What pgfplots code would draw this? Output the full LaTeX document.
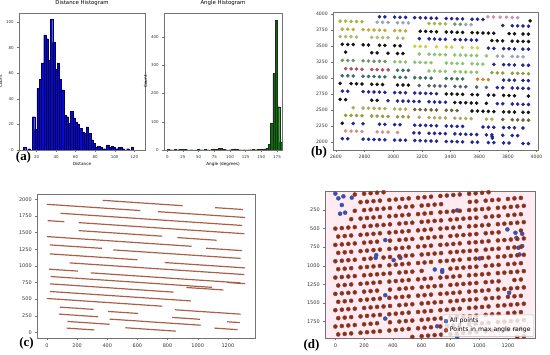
\documentclass[border=0pt]{standalone}
\usepackage{pgfplots}
\usepackage{pgfplotstable}
\pgfplotsset{compat=1.18}
\usepackage{fontspec}
\setmainfont{DejaVu Sans}
\newfontfamily\lserif{Liberation Serif}
\definecolor{nvc}{RGB}{35,35,150}
\definecolor{bkc}{RGB}{20,20,20}
\definecolor{ygc}{RGB}{160,185,60}
\definecolor{lsc}{RGB}{150,165,190}
\definecolor{sgc}{RGB}{110,150,100}
\definecolor{lac}{RGB}{195,145,185}
\definecolor{gdc}{RGB}{195,170,60}
\definecolor{loc}{RGB}{170,185,120}
\definecolor{ylc}{RGB}{200,210,70}
\definecolor{lgc}{RGB}{140,195,110}
\definecolor{mrc}{RGB}{170,80,100}
\definecolor{dsc}{RGB}{60,110,100}
\definecolor{orc}{RGB}{210,130,40}
\definecolor{slc}{RGB}{85,95,115}
\definecolor{khc}{RGB}{175,170,90}
\definecolor{doc}{RGB}{100,100,60}
\definecolor{sac}{RGB}{200,150,130}
\definecolor{olc}{RGB}{150,155,60}
\definecolor{histblue}{RGB}{10,10,200}
\definecolor{histedge}{RGB}{0,0,90}
\definecolor{histgreen}{RGB}{0,115,0}
\definecolor{segc}{RGB}{170,95,75}
\definecolor{brownpt}{RGB}{95,65,35}
\definecolor{brownedge}{RGB}{200,45,40}
\definecolor{bluept}{RGB}{60,80,170}
\pgfplotsset{
 mpl/.style={scale only axis, axis line style={black!55, line width=0.4bp}, tick pos=left, tick align=outside,
  major tick length=1.8bp, tick style={black!55, line width=0.35bp}, scaled ticks=false,
  /pgf/number format/1000 sep={}, /pgf/number format/assume math mode=true, clip=true,
  title style={yshift=-2.5bp}},
 small/.style={tick label style={font=\fontsize{4}{4.5}\selectfont, color=black!80},
  label style={font=\fontsize{4.2}{5}\selectfont}, title style={font=\fontsize{5.4}{6}\selectfont},
  xlabel style={yshift=2.5bp}, ylabel style={yshift=-3bp}},
 mid/.style={tick label style={font=\fontsize{5}{6}\selectfont, color=black!80}},
 seg/.style={segc, line width=1.2bp},
}
% Distance histogram: bin left edge, count
\pgfplotstableread{
x c
6.5 2
8.8 0
11.1 1
13.4 0
15.7 26
18.0 16
20.3 48
22.6 55
24.9 68
27.2 90
29.5 87
31.8 70
34.1 102
36.4 84
38.7 63
41.0 68
43.3 55
45.6 47
47.9 27
50.2 26
52.5 21
54.8 30
57.1 25
59.4 22
61.7 20
64.0 17
66.3 14
68.6 13
70.9 18
73.2 13
75.5 8
77.8 5
80.1 2
82.4 3
84.7 2
87.0 1
89.3 1
91.6 4
93.9 2
96.2 3
98.5 2
100.8 1
103.1 2
105.4 2
107.7 1
110.0 0
112.3 1
114.6 0
116.9 2
119.2 0
}\distdata
% Angle histogram: bin left edge, count
\pgfplotstableread{
x c
0 3
3.66 1
7.32 0
10.98 2
14.64 1
18.3 3
21.96 3
25.62 2
29.28 1
32.94 0
36.6 1
40.26 0
43.92 0
47.58 2
51.24 1
54.9 0
58.56 3
62.22 1
65.88 0
69.54 2
73.2 4
76.86 3
80.52 5
84.18 6
87.84 3
91.5 1
95.16 0
98.82 1
102.48 3
106.14 4
109.8 2
113.46 1
117.12 0
120.78 1
124.44 0
128.1 1
131.76 1
135.42 2
139.08 1
142.74 2
146.4 3
150.06 3
153.72 4
157.38 6
161.04 20
164.7 94
168.36 270
172.02 459
175.68 153
179.34 29
183.0 0
}\angdata
\begin{document}
\begin{tikzpicture}
\path[use as bounding box] (0,0) rectangle (550bp,355bp);

% (a) Distance histogram
\begin{axis}[mpl, small, at={(19bp,205bp)}, anchor=south west, width=126bp, height=137bp,
 xmin=2, xmax=131, ymin=0, ymax=107, xtick={20,40,...,120}, ytick={0,20,...,100},
 title={Distance Histogram}, xlabel={Distance}, ylabel={Count}]
\addplot[const plot, fill=histblue, draw=none] table[x=x, y=c] {\distdata} \closedcycle;
\addplot[ybar interval, fill=none, draw=histedge, line width=0.2bp] table[x=x, y=c] {\distdata};
\end{axis}

% (a) Angle histogram
\begin{axis}[mpl, small, at={(164bp,205bp)}, anchor=south west, width=118bp, height=137bp,
 xmin=-5.3, xmax=183, ymin=0, ymax=484, xtick={0,25,...,175}, ytick={0,100,...,400},
 title={Angle Histogram}, xlabel={Angle (degrees)}, ylabel={Count}]
\addplot[const plot, fill=histgreen, draw=none] table[x=x, y=c] {\angdata} \closedcycle;
\addplot[ybar interval, fill=none, draw=black!85, line width=0.3bp] table[x=x, y=c] {\angdata};
\end{axis}

% (b) clustered points
\begin{axis}[mpl, mid, at={(333bp,205bp)}, anchor=south west, width=205bp, height=138bp,
 xmin=2580, xmax=4010, ymin=1880, ymax=4030, xtick={2600,2800,...,4000}, ytick={2000,2250,...,4000},
 tick label style={font=\fontsize{4.6}{5}\selectfont}]
\addplot[scatter, only marks, mark=*, mark size=1.6bp, scatter src=explicit symbolic,
 scatter/classes={nv={mark=*,nvc}, bk={mark=*,bkc}, yg={mark=*,ygc}, ls={mark=*,lsc}, sg={mark=*,sgc},
 la={mark=*,lac}, gd={mark=*,gdc}, lo={mark=*,loc}, yl={mark=*,ylc}, lg={mark=*,lgc}, mr={mark=*,mrc},
 ds={mark=*,dsc}, or={mark=*,orc}, sl={mark=*,slc}, kh={mark=*,khc}, do={mark=*,doc}, sa={mark=*,sac}, ol={mark=*,olc}}]
coordinates {
(2904,3957) [nv] (2942,3954) [nv] (3010,3950) [nv] (3048,3948) [nv] (3086,3946) [nv] (3150,3942) [nv] (3188,3940) [nv] (3226,3937) [nv] (3264,3935) [nv] (3302,3933) [nv] (3370,3929) [nv] (3408,3927) [nv] (3446,3924) [nv] (3484,3922) [nv] (3550,3918) [nv] (3588,3916) [nv] (3626,3913) [nv]
(3660,3955) [la] (3700,3952) [la] (3745,3950) [la] (3790,3947) [la] (3830,3945) [la] (3868,3942) [la] (3955,3893) [bk]
(2630,3888) [yg] (2668,3886) [yg] (2706,3884) [yg] (2744,3881) [yg] (2782,3879) [yg] (2888,3873) [ls] (2926,3870) [ls] (2964,3868) [ls] (3030,3864) [ls] (3068,3862) [ls] (3106,3860) [ls]
(3250,3851) [yg] (3288,3849) [yg] (3326,3846) [yg] (3364,3844) [yg] (3430,3840) [sg] (3468,3838) [sg] (3506,3836) [ls] (3544,3833) [ls] (3764,3820) [nv] (3830,3816) [nv] (3868,3814) [nv] (3906,3812) [nv] (3944,3809) [nv]
(2645,3762) [gd] (2683,3760) [gd] (2721,3758) [gd] (2790,3754) [gd] (2828,3751) [gd] (2866,3749) [gd] (2904,3747) [gd] (2942,3744) [gd] (3010,3740) [gd] (3048,3738) [gd] (3086,3736) [gd]
(3188,3730) [bk] (3226,3727) [bk] (3264,3725) [bk] (3302,3723) [bk] (3370,3719) [bk] (3408,3717) [bk] (3446,3714) [bk] (3484,3712) [bk] (3550,3708) [bk] (3588,3706) [bk] (3626,3703) [bk] (3664,3701) [bk] (3702,3699) [bk] (3808,3693) [bk] (3846,3690) [bk] (3905,3687) [bk] (3943,3685) [bk]
(2630,3648) [lo] (2668,3646) [lo] (2706,3644) [lo] (2744,3641) [lo] (2850,3635) [lo] (2888,3633) [lo] (2926,3630) [lo] (2964,3628) [lo] (3030,3624) [lo] (3068,3622) [lo]
(3182,3615) [nv] (3250,3611) [nv] (3288,3609) [nv] (3326,3606) [nv] (3364,3604) [nv] (3430,3600) [nv] (3468,3598) [nv] (3506,3596) [nv] (3544,3593) [nv] (3582,3591) [nv]
(3688,3585) [bk] (3726,3582) [bk] (3764,3580) [bk] (3830,3576) [bk] (3868,3574) [bk] (3906,3572) [bk] (3944,3569) [bk]
(2645,3527) [bk] (2683,3525) [bk] (2721,3523) [bk] (2790,3519) [bk] (2828,3516) [bk] (2904,3512) [bk] (2942,3509) [bk] (3010,3505) [bk] (3048,3503) [bk]
(3150,3497) [yl] (3188,3495) [yl] (3226,3492) [yl] (3302,3488) [yl] (3370,3484) [yl] (3408,3482) [yl] (3484,3477) [yl] (3550,3473) [yl] (3588,3471) [yl]
(3664,3466) [nv] (3702,3464) [nv] (3770,3460) [nv] (3808,3458) [nv] (3846,3455) [nv] (3905,3452) [nv] (3943,3450) [nv]
(2668,3406) [bk] (2850,3395) [bk] (2888,3393) [bk] (2964,3388) [bk] (3030,3384) [bk] (3068,3382) [bk]
(3182,3375) [lg] (3250,3371) [lg] (3288,3369) [lg] (3326,3366) [lg] (3364,3364) [lg] (3430,3360) [lg] (3468,3358) [lg] (3506,3356) [lg] (3544,3353) [lg] (3582,3351) [lg] (3650,3347) [lg]
(3726,3342) [ls] (3764,3340) [ls] (3830,3336) [ls] (3868,3334) [ls] (3906,3332) [ls]
(2645,3277) [sg] (2683,3275) [sg] (2721,3273) [sg] (2790,3269) [sg] (2828,3266) [sg] (2866,3264) [sg] (2904,3262) [sg] (2942,3259) [sg]
(3010,3255) [lg] (3048,3253) [lg] (3086,3251) [lg] (3150,3247) [lg] (3188,3245) [lg] (3226,3242) [lg] (3264,3240) [lg] (3370,3234) [lg] (3408,3232) [lg] (3446,3229) [lg] (3484,3227) [lg] (3550,3223) [lg] (3588,3221) [lg] (3626,3218) [lg]
(3702,3214) [nv] (3770,3210) [nv] (3808,3208) [nv] (3846,3205) [nv] (3905,3202) [nv] (3943,3200) [nv]
(2668,3146) [mr] (2706,3144) [mr] (2744,3141) [mr] (2782,3139) [mr] (2850,3135) [mr] (2888,3133) [mr] (2926,3130) [mr] (2964,3128) [mr]
(3030,3124) [ds] (3068,3122) [ds] (3106,3120) [ds]
(3250,3111) [lg] (3288,3109) [lg] (3326,3106) [lg] (3364,3104) [lg] (3430,3100) [lg] (3468,3098) [lg] (3506,3096) [lg] (3544,3093) [lg] (3582,3091) [lg]
(3688,3085) [ol] (3726,3082) [ol] (3764,3080) [ol] (3830,3076) [ol] (3868,3074) [ol] (3906,3072) [ol] (3944,3069) [ol]
(2645,3037) [ds] (2683,3035) [ds] (2721,3033) [ds] (2790,3029) [ds] (2828,3026) [ds] (2866,3024) [ds] (2904,3022) [ds] (2942,3019) [ds] (3010,3015) [ds] (3048,3013) [ds] (3086,3011) [ds] (3150,3007) [ds] (3188,3005) [ds] (3226,3002) [ds] (3264,3000) [ds]
(3370,2994) [ds] (3408,2992) [ds] (3446,2989) [ds] (3484,2987) [ds] (3588,2981) [or] (3626,2978) [or] (3664,2976) [or]
(3770,2970) [nv] (3808,2968) [nv] (3846,2965) [nv] (3905,2962) [nv] (3943,2960) [nv]
(2630,2918) [bk] (2706,2914) [bk] (2744,2911) [bk] (2782,2909) [bk] (2850,2905) [bk] (2888,2903) [bk] (2926,2900) [bk] (3030,2894) [bk] (3068,2892) [bk] (3106,2890) [bk]
(3182,2885) [sl] (3250,2881) [sl] (3288,2879) [sl] (3326,2876) [sl] (3364,2874) [sl] (3430,2870) [sl] (3468,2868) [sl] (3506,2866) [sl] (3582,2861) [sl] (3650,2857) [sl]
(3726,2852) [nv] (3764,2850) [nv] (3830,2846) [nv] (3868,2844) [nv] (3906,2842) [nv] (3944,2839) [nv]
(2645,2797) [nv] (2683,2795) [nv] (2790,2789) [nv] (2828,2786) [nv] (2866,2784) [nv] (2904,2782) [nv] (2942,2779) [nv] (3010,2775) [nv] (3048,2773) [nv] (3086,2771) [nv] (3150,2767) [nv] (3188,2765) [nv] (3226,2762) [nv] (3264,2760) [nv] (3302,2758) [nv]
(3370,2754) [bk] (3408,2752) [bk] (3446,2749) [bk] (3484,2747) [bk] (3550,2743) [bk] (3588,2741) [bk] (3664,2736) [bk] (3702,2734) [bk] (3770,2730) [bk] (3808,2728) [bk] (3846,2725) [bk] (3943,2720) [bk]
(2630,2668) [bk] (2668,2666) [bk] (2850,2655) [bk] (2888,2653) [bk]
(2964,2648) [nv] (3030,2644) [nv] (3068,2642) [nv] (3106,2640) [nv] (3144,2637) [nv] (3182,2635) [nv] (3250,2631) [nv] (3288,2629) [nv] (3326,2626) [nv] (3364,2624) [nv]
(3430,2620) [bk] (3468,2618) [bk] (3506,2616) [bk] (3544,2613) [bk] (3582,2611) [bk] (3650,2607) [bk]
(3726,2602) [nv] (3764,2600) [nv] (3830,2596) [nv] (3868,2594) [nv] (3906,2592) [nv] (3944,2589) [nv]
(2721,2538) [kh] (2790,2534) [kh] (2828,2531) [kh] (2866,2529) [kh] (2904,2527) [kh] (2942,2524) [kh] (3010,2520) [kh] (3048,2518) [kh] (3086,2516) [kh]
(3150,2512) [do] (3188,2510) [do] (3226,2507) [do] (3264,2505) [do] (3302,2503) [do] (3370,2499) [do] (3408,2497) [do] (3446,2494) [do]
(3550,2488) [bk] (3588,2486) [bk] (3626,2483) [bk] (3664,2481) [bk] (3702,2479) [bk] (3770,2475) [bk] (3808,2473) [bk] (3846,2470) [bk] (3905,2467) [bk] (3943,2465) [bk]
(2668,2421) [ol] (2706,2419) [ol] (2744,2416) [ol] (2782,2414) [ol] (2850,2410) [ol] (2888,2408) [ol] (2926,2405) [ol] (2964,2403) [ol] (3030,2399) [ol] (3068,2397) [ol] (3106,2395) [ol]
(3182,2390) [kh] (3250,2386) [kh] (3288,2384) [kh] (3326,2381) [kh] (3364,2379) [kh] (3430,2375) [kh] (3468,2373) [kh] (3506,2371) [kh] (3544,2368) [kh] (3650,2362) [kh] (3688,2360) [kh]
(3764,2355) [do] (3830,2351) [do] (3868,2349) [do] (3906,2347) [do] (3944,2344) [do]
(2645,2297) [bk] (2721,2293) [nv] (2790,2289) [nv] (2904,2282) [nv] (2942,2279) [nv] (3010,2275) [nv] (3048,2273) [nv] (3150,2267) [nv] (3188,2265) [nv] (3226,2262) [nv] (3264,2260) [nv] (3302,2258) [nv] (3370,2254) [nv] (3408,2252) [nv] (3446,2249) [nv] (3484,2247) [nv]
(3626,2238) [nv] (3664,2236) [nv] (3702,2234) [nv] (3770,2230) [nv] (3808,2228) [nv] (3846,2225) [nv] (3905,2222) [nv]
(2668,2176) [sa] (2706,2174) [sa] (2744,2171) [sa] (2782,2169) [sa] (2888,2163) [sa] (2926,2160) [sa] (2964,2158) [sa] (3030,2154) [sa]
(3144,2147) [nv] (3182,2145) [nv] (3250,2141) [nv] (3288,2139) [nv] (3326,2136) [nv] (3364,2134) [nv] (3430,2130) [nv] (3468,2128) [nv] (3506,2126) [nv] (3544,2123) [nv] (3582,2121) [nv]
(3650,2117) [nv] (3688,2115) [nv] (3690,2090) [nv] (3692,2065) [nv] (3764,2110) [nv] (3830,2106) [nv] (3868,2104) [nv]
(2645,2057) [nv] (2683,2055) [nv] (2790,2049) [nv] (2828,2046) [nv] (2866,2044) [nv] (2904,2042) [nv] (2942,2039) [nv] (3010,2035) [nv] (3048,2033) [nv] (3086,2031) [nv] (3150,2027) [nv] (3188,2025) [nv] (3226,2022) [nv] (3264,2020) [nv] (3302,2018) [nv]
(3370,2014) [nv] (3408,2012) [nv] (3446,2009) [nv] (3484,2007) [nv] (3550,2003) [nv] (3588,2001) [nv] (3664,1996) [nv] (3702,1994) [nv] (3770,1990) [nv] (3808,1988) [nv] (3905,1982) [nv] (3943,1980) [nv]
};
\end{axis}

% (c) fitted line segments
\begin{axis}[mpl, mid, at={(37bp,17bp)}, anchor=south west, width=218bp, height=144bp,
 xmin=-66, xmax=1380, ymin=-84, ymax=2080, xtick={0,200,...,1200}, ytick={0,250,...,2000}]
\addplot[seg] coordinates {(370,1985) (900,1904)};
\addplot[seg] coordinates {(0,1925) (620,1831)};
\addplot[seg] coordinates {(1115,1875) (1300,1847)};
\addplot[seg] coordinates {(735,1815) (1315,1727)};
\addplot[seg] coordinates {(90,1790) (1295,1607)};
\addplot[seg] coordinates {(5,1680) (115,1663)};
\addplot[seg] coordinates {(210,1650) (1310,1483)};
\addplot[seg] coordinates {(210,1530) (765,1446)};
\addplot[seg] coordinates {(865,1425) (1125,1385)};
\addplot[seg] coordinates {(0,1440) (960,1294)};
\addplot[seg] coordinates {(20,1315) (365,1263)};
\addplot[seg] coordinates {(1055,1265) (1295,1229)};
\addplot[seg] coordinates {(440,1240) (1285,1112)};
\addplot[seg] coordinates {(20,1180) (600,1092)};
\addplot[seg] coordinates {(780,1050) (1315,969)};
\addplot[seg] coordinates {(150,1045) (1310,869)};
\addplot[seg] coordinates {(15,950) (205,921)};
\addplot[seg] coordinates {(290,895) (1285,744)};
\addplot[seg] coordinates {(1195,750) (1315,732)};
\addplot[seg] coordinates {(25,840) (1095,677)};
\addplot[seg] coordinates {(20,730) (840,605)};
\addplot[seg] coordinates {(925,675) (1170,638)};
\addplot[seg] coordinates {(20,615) (955,473)};
\addplot[seg] coordinates {(0,510) (765,394)};
\addplot[seg] coordinates {(85,380) (310,346)};
\addplot[seg] coordinates {(405,315) (605,285)};
\addplot[seg] coordinates {(850,340) (1285,274)};
\addplot[seg] coordinates {(80,275) (340,235)};
\addplot[seg] coordinates {(830,225) (1015,197)};
\addplot[seg] coordinates {(415,200) (1020,108)};
\addplot[seg] coordinates {(135,165) (415,122)};
\addplot[seg] coordinates {(1195,160) (1280,147)};
\addplot[seg] coordinates {(520,70) (855,19)};
\addplot[seg] coordinates {(130,65) (315,37)};
\addplot[seg] coordinates {(1110,65) (1265,41)};
\end{axis}

% (d) all points vs points in max angle range
\begin{axis}[mpl, mid, at={(325bp,17bp)}, anchor=south west, width=210bp, height=147bp,
 xmin=-72, xmax=1388, ymin=-7, ymax=1975, y dir=reverse, xtick={0,200,...,1200}, ytick={250,500,...,1750},
 axis background/.style={fill={rgb,255:red,255;green,236;blue,242}},
 legend style={at={(0.995,0.008)}, anchor=south east, font=\fontsize{6.2}{7}\selectfont, draw=black!25,
  fill=white, fill opacity=0.8, text opacity=1, rounded corners=1bp, inner sep=1.2bp, row sep=-1bp},
 legend cell align=left]
\addplot[only marks, mark=*, mark size=2bp, draw=bluept, fill=bluept] coordinates {
(0,28) (21,92) (56,65) (114,83) (45,182) (33,299) (68,285) (847,254) (1196,511) (1252,556) (1299,570) (1259,624)
(1299,736) (347,655) (284,858) (280,894) (405,925) (452,894) (691,1051) (743,1060) (743,1084) (1003,903) (1273,758)
(1280,849) (347,1398) (1208,1366) (347,1713) (708,1817) (778,1817) (847,1961)};
\addlegendentry{All points}
\addplot[only marks, mark=*, mark size=2bp, mark options={draw=brownedge, fill=brownpt, line width=0.5bp}] coordinates {
(135,40) (200,30) (245,23) (290,16) (335,10)
(175,144) (220,137) (265,130) (310,123) (375,114) (420,107) (465,100) (510,93) (575,84) (620,77) (665,70) (730,60) (775,54) (820,47) (865,40) (930,30) (975,24) (1020,17) (1065,10)
(135,260) (200,250) (245,243) (290,236) (335,230) (380,223) (445,213) (490,206) (535,200) (600,190) (645,183) (690,176) (735,170) (935,140) (980,133) (1045,123) (1090,116) (1135,110) (1200,100) (1245,93) (1290,86)
(110,373) (175,364) (220,357) (265,350) (310,343) (375,334) (420,327) (465,320) (510,313) (575,304) (620,297) (665,290) (730,280) (775,274) (820,267) (865,260) (930,250) (975,244) (1020,237) (1065,230) (1130,220) (1175,214) (1220,207) (1265,200) (1310,193)
(0,500) (45,493) (90,486) (135,480) (200,470) (245,463) (290,456) (335,450) (380,443) (445,433) (490,426) (535,420) (600,410) (645,403) (690,396) (735,390) (800,380) (845,373) (890,366) (935,360) (980,353) (1045,343) (1090,336) (1135,330) (1200,320) (1245,313) (1290,306)
(20,607) (65,600) (110,593) (175,584) (220,577) (265,570) (310,563) (375,554) (420,547) (465,540) (510,533) (575,524) (620,517) (665,510) (730,500) (775,494) (820,487) (865,480) (930,470) (975,464) (1020,457) (1065,450) (1130,440) (1175,434) (1220,427) (1265,420) (1310,413)
(0,720) (45,713) (90,706) (135,700) (200,690) (245,683) (290,676) (380,663) (445,653) (490,646) (535,640) (600,630) (645,623) (690,616) (735,610) (800,600) (845,593) (890,586) (935,580) (980,573) (1045,563) (1090,556) (1135,550) (1290,526)
(20,827) (65,820) (110,813) (175,804) (220,797) (265,790) (310,783) (375,774) (420,767) (465,760) (510,753) (575,744) (620,737) (665,730) (730,720) (775,714) (820,707) (865,700) (930,690) (975,684) (1020,677) (1065,670) (1130,660) (1175,654) (1220,647) (1265,640) (1310,633)
(0,940) (45,933) (90,926) (135,920) (200,910) (245,903) (335,890) (380,883) (445,873) (490,866) (535,860) (600,850) (645,843) (690,836) (735,830) (800,820) (845,813) (890,806) (935,800) (980,793) (1045,783) (1090,776) (1135,770) (1200,760) (1245,753) (1290,746)
(20,1047) (65,1040) (110,1033) (175,1024) (220,1017) (265,1010) (310,1003) (375,994) (420,987) (465,980) (510,973) (575,964) (620,957) (665,950) (730,940) (775,934) (820,927) (865,920) (930,910) (975,904) (1020,897) (1065,890) (1130,880) (1175,874) (1220,867) (1265,860) (1310,853)
(0,1160) (45,1153) (90,1146) (135,1140) (200,1130) (245,1123) (290,1116) (335,1110) (380,1103) (445,1093) (490,1086) (535,1080) (600,1070) (800,1040) (845,1033) (890,1026) (935,1020) (980,1013) (1045,1003) (1090,996) (1135,990) (1200,980) (1245,973) (1290,966)
(20,1267) (65,1260) (110,1253) (175,1244) (220,1237) (265,1230) (310,1223) (375,1214) (420,1207) (465,1200) (510,1193) (575,1184) (620,1177) (665,1170) (730,1160) (775,1154) (820,1147) (865,1140) (930,1130) (975,1124) (1020,1117) (1065,1110) (1130,1100) (1175,1094) (1220,1087) (1265,1080) (1310,1073)
(0,1380) (45,1373) (90,1366) (135,1360) (200,1350) (245,1343) (290,1336) (380,1323) (445,1313) (490,1306) (535,1300) (600,1290) (645,1283) (690,1276) (735,1270) (800,1260) (845,1253) (890,1246) (935,1240) (980,1233) (1045,1223) (1090,1216) (1135,1210) (1245,1193) (1290,1186)
(20,1487) (65,1480) (110,1473) (175,1464) (220,1457) (265,1450) (310,1443) (375,1434) (420,1427) (465,1420) (510,1413) (575,1404) (620,1397) (665,1390) (730,1380) (775,1374) (820,1367) (865,1360) (930,1350) (975,1344) (1020,1337) (1065,1330) (1130,1320) (1175,1314) (1220,1307) (1265,1300) (1310,1293)
(0,1600) (45,1593) (90,1586) (135,1580) (200,1570) (245,1563) (290,1556) (335,1550) (380,1543) (445,1533) (490,1526) (535,1520) (600,1510) (645,1503) (690,1496) (735,1490) (800,1480) (845,1473) (890,1466) (935,1460) (980,1453) (1045,1443) (1090,1436) (1135,1430) (1200,1420) (1245,1413) (1290,1406)
(20,1707) (65,1700) (110,1693) (175,1684) (220,1677) (265,1670) (310,1663) (375,1654) (420,1647) (465,1640) (510,1633) (575,1624) (620,1617) (665,1610) (730,1600) (775,1594) (820,1587) (865,1580) (930,1570) (975,1564) (1020,1557) (1065,1550) (1130,1540) (1175,1534) (1220,1527) (1265,1520) (1310,1513)
(0,1820) (45,1813) (90,1806) (135,1800) (200,1790) (245,1783) (290,1776) (380,1763) (445,1753) (490,1746) (535,1740) (600,1730) (645,1723) (690,1716) (735,1710) (800,1700) (845,1693) (890,1686) (935,1680) (980,1673) (1045,1663) (1090,1656) (1135,1650) (1200,1640) (1245,1633) (1290,1626)
(20,1927) (65,1920) (110,1913) (175,1904) (220,1897) (265,1890) (310,1883) (375,1874) (420,1867) (465,1860) (510,1853) (575,1844) (620,1837) (665,1830) (730,1820) (775,1814) (820,1807) (865,1800) (930,1790) (975,1784) (1020,1777) (1065,1770) (1130,1760) (1175,1754) (1220,1747) (1265,1740) (1310,1733)
(535,1960) (600,1950) (645,1943) (690,1936) (735,1930) (800,1920) (845,1913) (890,1906) (935,1900) (980,1893) (1045,1883) (1090,1876) (1135,1870) (1200,1860) (1245,1853) (1290,1846)
(1265,1960) (1310,1953)};
\addlegendentry{Points in max angle range}
\end{axis}

% panel labels
\node[font=\lserif\bfseries\fontsize{13}{15}\selectfont] at (23.5bp,198bp) {(a)};
\node[font=\lserif\bfseries\fontsize{13}{15}\selectfont] at (319bp,203bp) {(b)};
\node[font=\lserif\bfseries\fontsize{13}{15}\selectfont] at (26.5bp,12bp) {(c)};
\node[font=\lserif\bfseries\fontsize{13}{15}\selectfont] at (311.5bp,10bp) {(d)};
\end{tikzpicture}
\end{document}
